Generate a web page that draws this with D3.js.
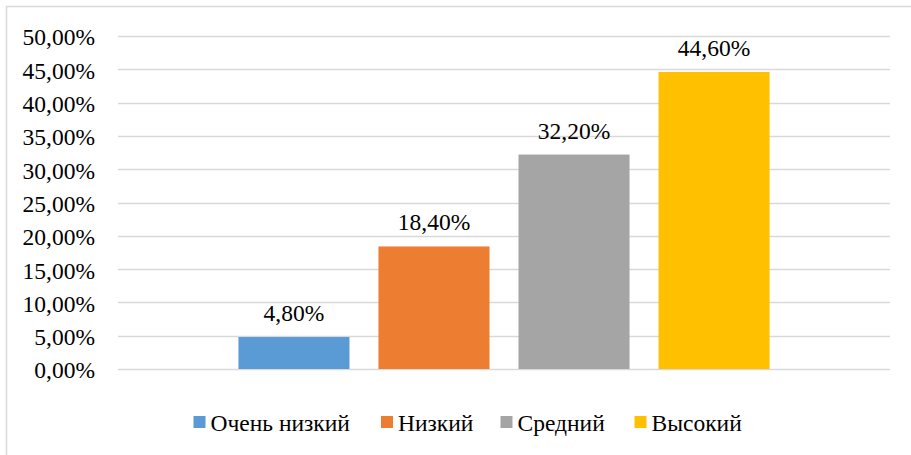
<html lang="ru">
<head>
<meta charset="utf-8">
<style>
  body { margin: 0; background: #fff; }
</style>
</head>
<body>
<svg id="chart" width="911" height="455"></svg>
<script src="https://d3js.org/d3.v7.min.js"></script>
<script>
// data
var category = "Уровень";
var seriesNames = ["Очень низкий", "Низкий", "Средний", "Высокий"];
var seriesValues = [4.8, 18.4, 32.2, 44.6];
var seriesColors = ["#5B9BD5", "#ED7D31", "#A5A5A5", "#FFC000"];
var yTicks = [0, 5, 10, 15, 20, 25, 30, 35, 40, 45, 50];

var plotLeft = 118, plotRight = 890, plotTop = 36, plotBottom = 369;
var fontSize = 23.5;
var serif = "'Times New Roman', 'Liberation Serif', serif";

var svg = d3.select("#chart");

// outer chart border (runs off right/bottom of the window)
svg.append("rect")
    .attr("x", 6.5).attr("y", 6.5)
    .attr("width", 920).attr("height", 470)
    .attr("fill", "none")
    .attr("stroke", "#d9d9d9")
    .attr("stroke-width", 1.5);

var y = d3.scaleLinear().domain([0, 50]).range([plotBottom, plotTop]);

var x0 = d3.scaleBand().domain([category]).range([plotLeft, plotRight]);
var x1 = d3.scaleBand().domain(seriesNames)
    .range([0, x0.bandwidth()])
    .paddingInner(0.207)
    .paddingOuter(0.86);

var fmt = function(v) { return d3.format(".2f")(v).replace(".", ",") + "%"; };

// gridlines
svg.append("g").selectAll("line")
    .data(yTicks)
    .join("line")
    .attr("x1", plotLeft).attr("x2", plotRight)
    .attr("y1", d => Math.round(y(d)) + 0.5)
    .attr("y2", d => Math.round(y(d)) + 0.5)
    .attr("stroke", "#d9d9d9")
    .attr("stroke-width", 1.5);

// y axis labels
var yAxis = d3.axisLeft(y).tickValues(yTicks).tickFormat(fmt).tickSize(0).tickPadding(23);
var ga = svg.append("g").attr("transform", "translate(" + plotLeft + ",0)").call(yAxis);
ga.select(".domain").remove();
ga.attr("font-family", null).attr("font-size", null);
ga.selectAll("text")
    .attr("dy", "0.38em")
    .style("font-family", serif)
    .style("font-size", fontSize + "px")
    .attr("fill", "#000");

// bars
var bars = svg.append("g");
seriesNames.forEach(function(name, i) {
    var bx = x0(category) + x1(name);
    bars.append("rect")
        .attr("x", bx)
        .attr("y", y(seriesValues[i]))
        .attr("width", x1.bandwidth())
        .attr("height", y(0) - y(seriesValues[i]))
        .attr("fill", seriesColors[i]);
    bars.append("text")
        .attr("x", bx + x1.bandwidth() / 2)
        .attr("y", y(seriesValues[i]) - 16)
        .attr("text-anchor", "middle")
        .style("font-family", serif)
        .style("font-size", fontSize + "px")
        .text(fmt(seriesValues[i]));
});

// legend
var legendX = [193.5, 381, 500.5, 634.5];
var legend = svg.append("g");
seriesNames.forEach(function(name, i) {
    legend.append("rect")
        .attr("x", legendX[i]).attr("y", 416)
        .attr("width", 12).attr("height", 12)
        .attr("fill", seriesColors[i]);
    legend.append("text")
        .attr("x", legendX[i] + 17).attr("y", 431)
        .style("font-family", serif)
        .style("font-size", fontSize + "px")
        .text(name);
});
</script>
</body>
</html>
